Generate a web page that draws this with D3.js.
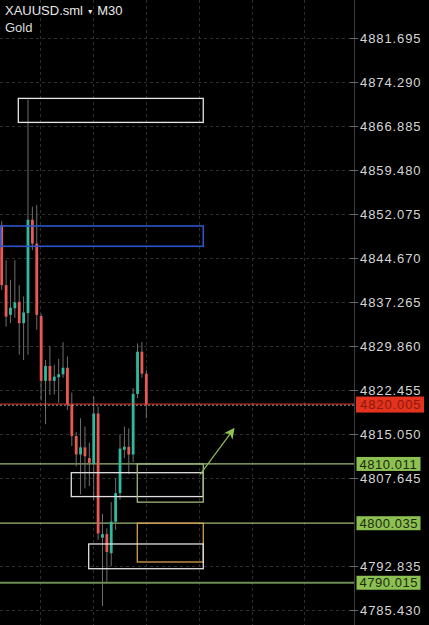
<!DOCTYPE html>
<html><head><meta charset="utf-8">
<script src="https://cdn.jsdelivr.net/npm/d3@7"></script>
<style>html,body{margin:0;padding:0;background:#000;} svg{display:block;}</style>
</head><body><svg id="c" width="429" height="625"></svg>
<script>
// ---- data (XAUUSD.sml M30) ----
const opens  = [4850.2,4840.1,4835.1,4836.2,4837.3,4833.7,4835.4,4851.1,4847.1,4834.9,4824.0,4826.5,4824.0,4824.6,4825.1,4826.2,4820.0,4814.7,4811.6,4812.8,4811.0,4810.0,4818.5,4797.6,4798.2,4795.0,4800.3,4805.1,4812.4,4812.9,4811.6,4821.8,4828.9,4825.2];
const highs  = [4850.9,4844.3,4841.0,4844.3,4840.1,4838.2,4871.3,4853.3,4853.6,4835.3,4827.5,4829.8,4826.7,4827.7,4830.5,4828.1,4822.0,4815.4,4817.7,4816.3,4813.6,4821.4,4819.7,4801.6,4799.2,4803.6,4807.6,4815.0,4816.3,4816.0,4822.8,4830.3,4830.5,4825.8];
const lows   = [4839.3,4833.1,4833.7,4834.6,4828.4,4827.5,4828.4,4846.0,4832.6,4820.7,4816.7,4821.6,4821.7,4820.3,4824.5,4819.1,4813.0,4809.6,4804.9,4805.9,4806.3,4803.9,4797.2,4786.1,4790.2,4792.8,4798.9,4804.0,4811.0,4808.3,4810.3,4821.1,4824.5,4817.7];
const closes = [4840.1,4834.8,4836.3,4837.2,4833.7,4835.5,4851.1,4847.1,4835.1,4824.0,4826.5,4824.0,4824.7,4825.1,4826.2,4820.0,4814.7,4811.6,4812.8,4811.3,4810.2,4818.5,4798.3,4798.2,4795.2,4800.3,4805.1,4812.6,4812.9,4811.6,4821.8,4828.9,4825.2,4820.005];
const tickValues = [4881.695,4874.290,4866.885,4859.480,4852.075,4844.670,4837.265,4829.860,4822.455,4815.050,4807.645,4792.835,4785.430];
const levelPrices = [4810.011,4800.035,4790.015];
const lastPrice = 4820.005;
const timeGrid = [8.75,20.85,33.0,45.0,57.1,69.1];           // bar positions of time grid lines
const boxNames   = ["supplyTop","supplyBlue","fvgMid","zoneGreen","zoneOrange","fvgLow"];
const boxStart   = [3.79,-0.2,15.88,30.94,30.94,19.85];       // bar index
const boxEnd     = [46.0,46.0,46.0,46.0,46.0,46.0];
const boxHigh    = [4871.53,4850.06,4808.54,4810.011,4800.035,4796.54];
const boxLow     = [4867.49,4846.64,4804.52,4803.58,4793.51,4792.38];
const arrowFrom  = [45.3,4808.27];
const arrowTo    = [52.85,4815.79];

// ---- styles ----
const boxColor = {supplyTop:"#e6e6e6",supplyBlue:"#2d55c8",fvgMid:"#e0e0e0",zoneGreen:"#9db77a",zoneOrange:"#d4a04c",fvgLow:"#e0e0e0"};
const UP="#2fb9a0", DOWN="#e85a55";
const FONT="'Liberation Sans',Arial,sans-serif";

const svg = d3.select("#c");
const W=429,H=625, axisX=354;
svg.append("rect").attr("width",W).attr("height",H).attr("fill","#000");

const y = d3.scaleLinear().domain([4785.430,4881.695]).range([610,38]);
const x = d3.scaleLinear().domain([0,33]).range([1.7,146.3]);

// grid
const g = svg.append("g");
g.selectAll("line.hg").data(tickValues).join("line")
  .attr("x1",0).attr("x2",axisX).attr("y1",d=>Math.round(y(d))+0.5).attr("y2",d=>Math.round(y(d))+0.5)
  .attr("stroke","#2e2e2e").attr("stroke-dasharray","3,3");
g.selectAll("line.vg").data(timeGrid).join("line")
  .attr("x1",d=>Math.round(x(d))+0.5).attr("x2",d=>Math.round(x(d))+0.5).attr("y1",0).attr("y2",H)
  .attr("stroke","#2e2e2e").attr("stroke-dasharray","3,3");

// level lines
svg.selectAll("line.lvl").data(levelPrices).join("line")
  .attr("x1",0).attr("x2",axisX).attr("y1",d=>y(d)).attr("y2",d=>y(d))
  .attr("stroke",(d,i)=>i===2?"#6f8c55":"#9cb878").attr("stroke-width",(d,i)=>i===2?1.8:1.2);

// candles
const idx = d3.range(opens.length);
const cg = svg.append("g");
cg.selectAll("line.w").data(idx).join("line")
  .attr("x1",i=>x(i)).attr("x2",i=>x(i)).attr("y1",i=>y(highs[i])).attr("y2",i=>y(lows[i]))
  .attr("stroke","#7a7a7a").attr("stroke-width",0.9);
cg.selectAll("rect.b").data(idx).join("rect")
  .attr("x",i=>x(i)-1.4).attr("width",2.8)
  .attr("y",i=>y(Math.max(opens[i],closes[i])))
  .attr("height",i=>Math.max(1.2,Math.abs(y(opens[i])-y(closes[i]))))
  .attr("fill",i=>closes[i]>=opens[i]?UP:DOWN);

// boxes
svg.selectAll("rect.box").data(boxNames).join("rect")
  .attr("x",(d,i)=>x(boxStart[i])).attr("width",(d,i)=>x(boxEnd[i])-x(boxStart[i]))
  .attr("y",(d,i)=>y(boxHigh[i])).attr("height",(d,i)=>y(boxLow[i])-y(boxHigh[i]))
  .attr("fill","none").attr("stroke",d=>boxColor[d]).attr("stroke-width",(d)=>d==="supplyBlue"?1.6:1.3);

// last price line
svg.append("line").attr("x1",0).attr("x2",axisX).attr("y1",y(lastPrice)-0.5).attr("y2",y(lastPrice)-0.5)
  .attr("stroke","#e53a2a").attr("stroke-width",1);
svg.append("line").attr("x1",0).attr("x2",axisX).attr("y1",y(lastPrice)+0.7).attr("y2",y(lastPrice)+0.7)
  .attr("stroke","#cfcfcf").attr("stroke-width",0.7).attr("stroke-dasharray","2,2");

// arrow
const defs = svg.append("defs");
defs.append("marker").attr("id","ah").attr("viewBox","0 0 10 10").attr("refX",8).attr("refY",5)
  .attr("markerWidth",9).attr("markerHeight",9).attr("orient","auto")
  .append("path").attr("d","M0,0 L10,5 L0,10 L3,5 Z").attr("fill","#8fc44f");
svg.append("line").attr("x1",x(arrowFrom[0])).attr("y1",y(arrowFrom[1]))
  .attr("x2",x(arrowTo[0])).attr("y2",y(arrowTo[1]))
  .attr("stroke","#8fbf5a").attr("stroke-width",1.2).attr("marker-end","url(#ah)");

// axis
svg.append("line").attr("x1",axisX+0.5).attr("x2",axisX+0.5).attr("y1",0).attr("y2",H)
  .attr("stroke","#3c3c3c").attr("stroke-width",1);
const ax = svg.append("g").attr("transform",`translate(${axisX},0)`)
  .call(d3.axisRight(y).tickValues(tickValues).tickFormat(d3.format(".3f")).tickSize(4).tickPadding(2));
ax.select(".domain").remove();
ax.selectAll(".tick line").attr("stroke","#6a6a6a").attr("x1",-4);
ax.selectAll(".tick text").attr("fill","#d6d6d6").style("font-family",FONT)
  .style("font-size","13px").style("letter-spacing","0.9px");

// level price labels
const lab = svg.selectAll("g.lab").data(levelPrices).join("g").attr("transform",d=>`translate(356.5,${y(d)})`);
lab.append("rect").attr("x",0).attr("y",-7).attr("width",64).attr("height",14).attr("fill","#8cc152");
lab.append("text").attr("x",3).attr("y",0).attr("dy","0.35em").text(d=>d3.format(".3f")(d))
  .attr("fill","#1d2a10").style("font-family",FONT).style("font-size","13px").style("letter-spacing","0.55px");

const lp = svg.append("g").attr("transform",`translate(356,${y(lastPrice)})`);
lp.append("rect").attr("x",0).attr("y",-8).attr("width",68).attr("height",16).attr("fill","#e3321d");
lp.append("text").attr("x",4).attr("y",0).attr("dy","0.35em").text(d3.format(".3f")(lastPrice))
  .attr("fill","#8c1a0e").style("font-family",FONT).style("font-size","13px").style("letter-spacing","0.9px");

// title
const tt = svg.append("text").attr("x",5).attr("y",15).attr("fill","#e8e8e8")
  .style("font-family",FONT).style("font-size","13px");
tt.append("tspan").text("XAUUSD.sml ");
tt.append("tspan").text("▼").style("font-size","7px").attr("dy","-1");
tt.append("tspan").text(" M30").attr("dy","1");
svg.append("text").attr("x",5).attr("y",32).attr("fill","#dcdcdc").text("Gold")
  .style("font-family",FONT).style("font-size","13px");
</script></body></html>
